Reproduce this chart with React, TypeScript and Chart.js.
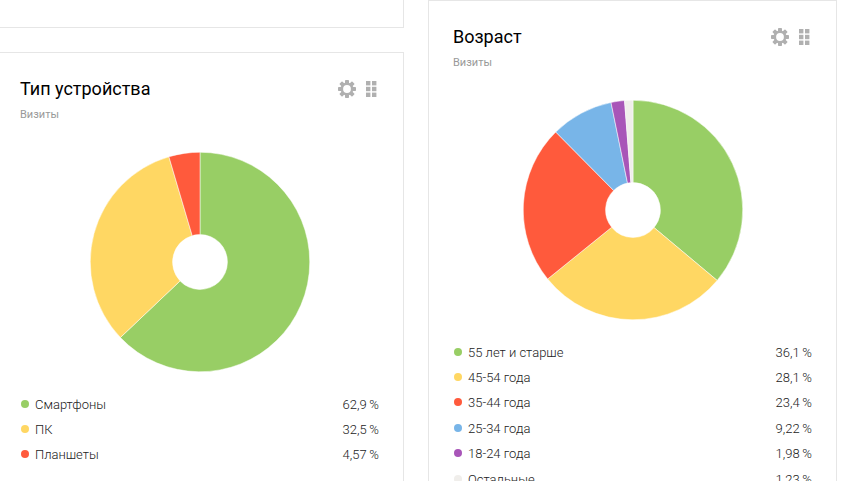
import { useEffect, useRef } from 'react'
import { Chart, registerables } from 'chart.js'

Chart.register(...registerables)

const deviceLabels = ['Смартфоны', 'ПК', 'Планшеты']
const deviceValues = [62.9, 32.5, 4.57]
const deviceText = ['62,9\u2009%', '32,5\u2009%', '4,57\u2009%']

const ageLabels = ['55 лет и старше', '45-54 года', '35-44 года', '25-34 года', '18-24 года', 'Остальные']
const ageValues = [36.1, 28.1, 23.4, 9.22, 1.98, 1.23]
const ageText = ['36,1\u2009%', '28,1\u2009%', '23,4\u2009%', '9,22\u2009%', '1,98\u2009%', '1,23\u2009%']

const colors = ['#98ce65', '#ffd763', '#ff5a3c', '#78b5e8', '#a855b8', '#f0eeeb']

const FONT = 'Roboto, sans-serif'

function Pie({ values, labels, left, top }: { values: number[]; labels: string[]; left: number; top: number }) {
  const canvasRef = useRef<HTMLCanvasElement>(null)

  useEffect(() => {
    if (!canvasRef.current) return
    const chart = new Chart(canvasRef.current, {
      type: 'doughnut',
      data: {
        labels,
        datasets: [{ data: values, backgroundColor: colors, borderColor: '#fff', borderWidth: 0.5 }],
      },
      options: {
        responsive: false,
        animation: false,
        cutout: '25%',
        layout: { padding: 0 },
        plugins: { legend: { display: false }, tooltip: { enabled: false } },
      },
    })
    return () => chart.destroy()
  }, [values, labels])

  return <canvas ref={canvasRef} width={220} height={220} style={{ position: 'absolute', left, top }} />
}

function Icons({ left, top }: { left: number; top: number }) {
  const teeth = [0, 45, 90, 135]
  return (
    <svg width={46} height={20} style={{ position: 'absolute', left, top }}>
      <g fill="#b0b0b0">
        {teeth.map(a => (
          <rect key={a} x={7} y={0} width={4} height={18} rx={0.8} transform={`rotate(${a} 9 9)`} />
        ))}
      </g>
      <circle cx={9} cy={9} r={5.2} fill="#fff" stroke="#b0b0b0" strokeWidth={2.6} />
      <g fill="#b0b0b0">
        {[0, 1].map(c =>
          [0, 1, 2].map(r => <rect key={`${c}${r}`} x={28 + c * 6} y={1 + r * 5.8} width={4.4} height={4.4} />),
        )}
      </g>
    </svg>
  )
}

function Legend({ labels, text, left, right, rows }: { labels: string[]; text: string[]; left: number; right: number; rows: number[] }) {
  return (
    <>
      {labels.map((label, i) => (
        <div key={label}>
          <span
            style={{
              position: 'absolute',
              left: left,
              top: rows[i] - 4,
              width: 8,
              height: 8,
              borderRadius: '50%',
              background: colors[i],
            }}
          />
          <span
            style={{
              position: 'absolute',
              left: left + 14,
              top: rows[i] - 8,
              fontSize: 13,
              fontWeight: 300,
              lineHeight: '18px',
              color: '#222',
              whiteSpace: 'nowrap',
            }}
          >
            {label}
          </span>
          <span
            style={{
              position: 'absolute',
              left: right - 80,
              width: 80,
              textAlign: 'right',
              top: rows[i] - 8,
              fontSize: 13,
              fontWeight: 300,
              lineHeight: '18px',
              color: '#222',
            }}
          >
            {text[i]}
          </span>
        </div>
      ))}
    </>
  )
}

function Heading({ title, left, top }: { title: string; left: number; top: number }) {
  return (
    <>
      <div style={{ position: 'absolute', left, top, fontSize: 18, lineHeight: '24px', color: '#000', whiteSpace: 'nowrap' }}>{title}</div>
      <div style={{ position: 'absolute', left, top: top + 31, fontSize: 11, lineHeight: '14px', color: '#999' }}>Визиты</div>
    </>
  )
}

const cardBorder = '1px solid #e6e6e6'

export default function App() {
  return (
    <div style={{ position: 'absolute', left: 0, top: 0, width: 841, height: 481, overflow: 'hidden', background: '#fff', fontFamily: FONT }}>
      <div style={{ position: 'absolute', left: -10, top: -20, width: 414, height: 48, border: cardBorder, boxSizing: 'border-box' }} />
      <div style={{ position: 'absolute', left: -10, top: 52, width: 414, height: 460, border: cardBorder, boxSizing: 'border-box' }} />
      <div style={{ position: 'absolute', left: 428, top: 0, width: 409, height: 520, border: cardBorder, boxSizing: 'border-box' }} />

      <Heading title="Тип устройства" left={20} top={77} />
      <Icons left={338} top={80} />
      <Pie values={deviceValues} labels={deviceLabels} left={90} top={152} />
      <Legend labels={deviceLabels} text={deviceText} left={21} right={379} rows={[404, 429, 454]} />

      <Heading title="Возраст" left={453} top={25} />
      <Icons left={771} top={28} />
      <Pie values={ageValues} labels={ageLabels} left={523} top={100} />
      <Legend labels={ageLabels} text={ageText} left={454} right={812} rows={[352, 377, 402, 428, 453, 479]} />
    </div>
  )
}
